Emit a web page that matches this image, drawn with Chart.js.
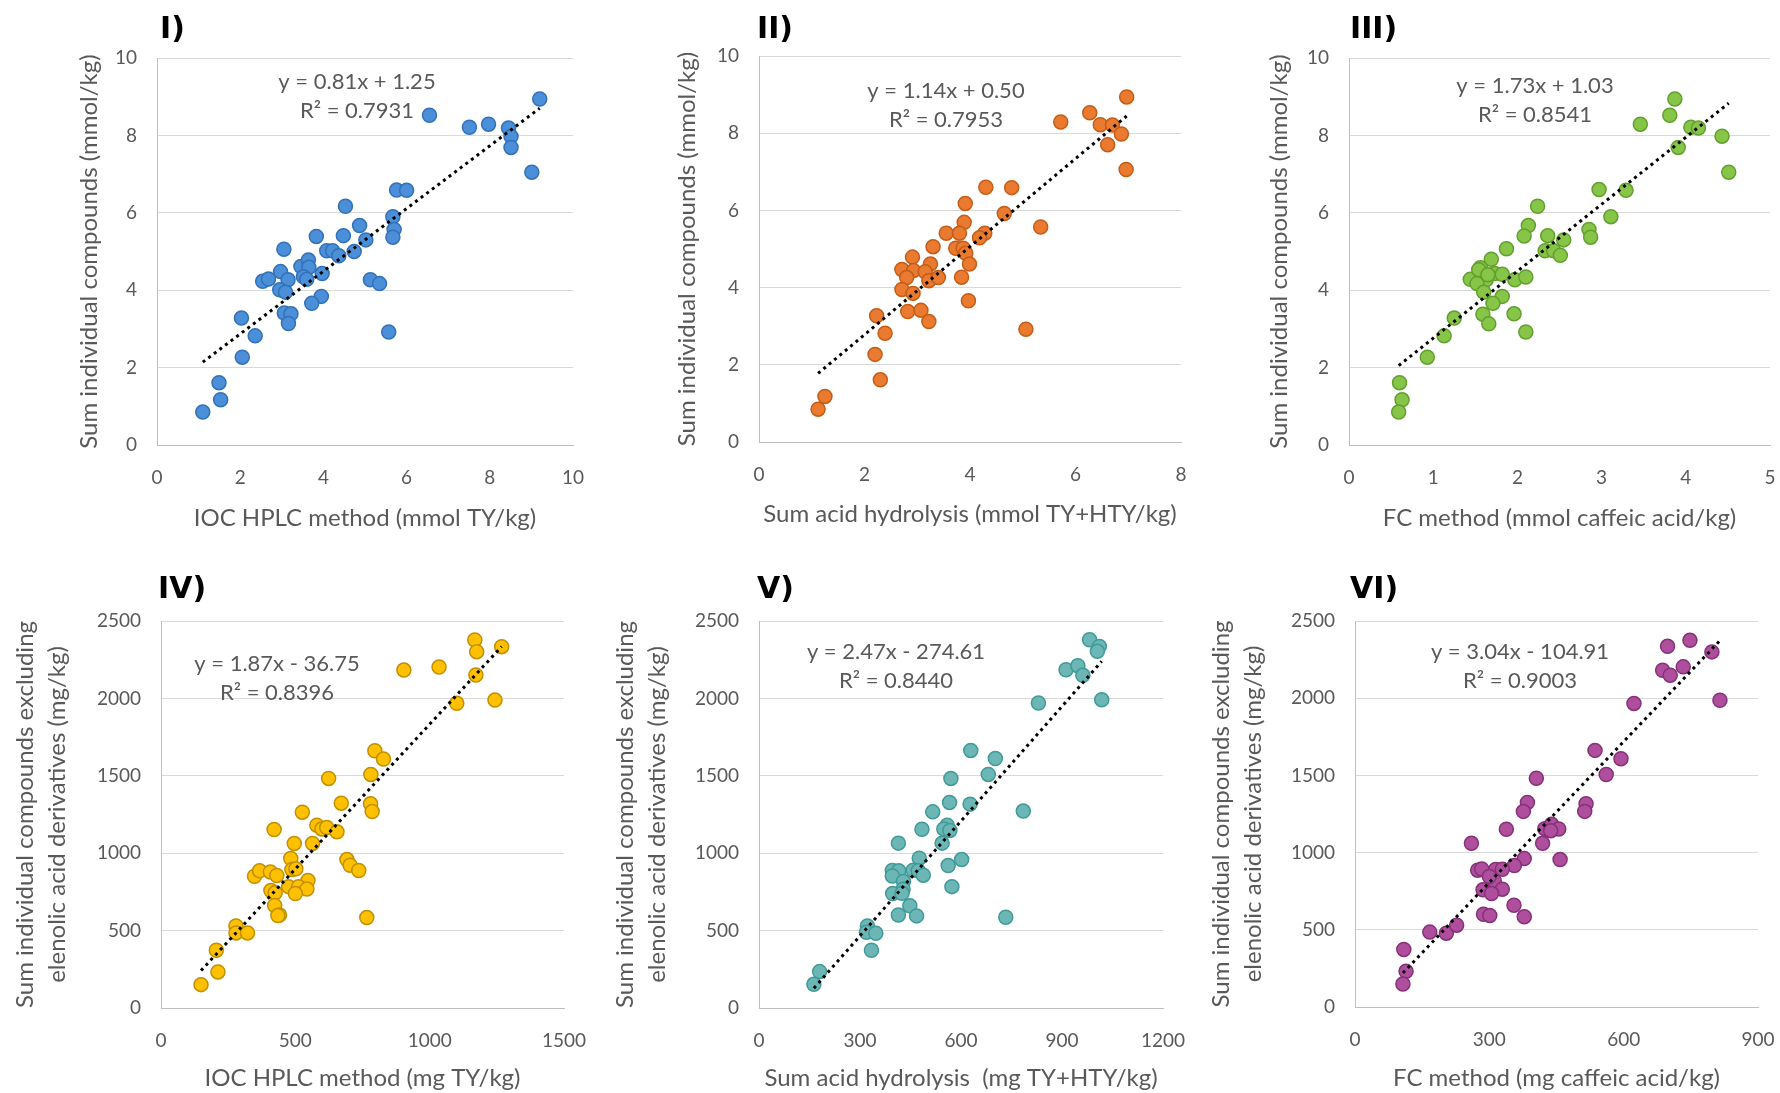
<!DOCTYPE html>
<html lang="en">
<head>
<meta charset="UTF-8">
<title>Sum of individual compounds vs. total phenol methods</title>
<script src="https://cdn.jsdelivr.net/npm/chart.js@4.4.1/dist/chart.umd.min.js"></script>
<style>
  html, body { margin: 0; padding: 0; background: #fff; }
  #wrap { position: relative; width: 1780px; height: 1093px; overflow: hidden; }
  #wrap canvas { position: absolute; }
</style>
</head>
<body>
<div id="wrap"></div>
<script>
// I) IOC HPLC (mmol TY/kg) vs sum individual compounds (mmol/kg)
const iocMmol = [9.2, 6.55, 7.51, 7.97, 8.45, 8.51, 8.51, 9.01, 5.76, 6.0, 4.53, 4.87, 5.67, 5.70, 5.67, 5.02, 3.83, 4.48, 4.74, 4.08, 4.22, 4.37, 3.05, 3.46, 3.64, 3.65, 3.97, 3.52, 3.60, 2.97, 2.54, 2.68, 3.15, 2.95, 3.09, 3.95, 3.72, 5.13, 5.35, 3.06, 3.22, 3.16, 2.03, 2.36, 5.57, 2.05, 1.49, 1.53, 1.10];
const sumMmolI = [8.94, 8.52, 8.21, 8.29, 8.19, 7.97, 7.69, 7.05, 6.59, 6.58, 6.17, 5.67, 5.90, 5.57, 5.37, 5.30, 5.39, 5.41, 5.00, 5.02, 5.02, 4.89, 5.06, 4.61, 4.78, 4.59, 4.43, 4.35, 4.28, 4.48, 4.23, 4.29, 4.27, 4.01, 3.95, 3.84, 3.66, 4.27, 4.17, 3.41, 3.39, 3.14, 3.28, 2.82, 2.92, 2.27, 1.61, 1.17, 0.85];

// II) acid hydrolysis (mmol TY+HTY/kg)
const hydMmol = [6.97, 6.27, 5.72, 6.47, 6.70, 6.87, 6.61, 6.96, 4.30, 4.79, 3.91, 4.65, 5.34, 3.89, 3.55, 3.80, 4.28, 4.18, 3.30, 3.73, 3.87, 3.92, 3.99, 2.91, 3.25, 2.71, 2.93, 3.15, 2.80, 3.22, 3.40, 3.84, 2.71, 2.92, 3.97, 2.82, 3.07, 3.22, 2.23, 2.39, 5.06, 2.20, 2.30, 1.25, 1.12];
const sumMmolII = [8.94, 8.53, 8.29, 8.22, 8.21, 7.98, 7.70, 7.06, 6.60, 6.59, 6.18, 5.92, 5.57, 5.69, 5.41, 5.41, 5.41, 5.29, 5.06, 5.02, 5.02, 4.89, 4.61, 4.79, 4.61, 4.47, 4.44, 4.41, 4.26, 4.18, 4.26, 4.27, 3.95, 3.85, 3.66, 3.38, 3.41, 3.12, 3.27, 2.82, 2.92, 2.27, 1.61, 1.18, 0.85];

// III) FC method (mmol caffeic acid/kg)
const fcMmol = [3.87, 3.81, 3.46, 4.06, 4.15, 4.43, 3.91, 4.51, 2.97, 3.29, 2.24, 3.11, 2.13, 2.08, 2.85, 2.87, 2.36, 2.55, 1.87, 2.33, 2.43, 2.51, 1.69, 1.56, 1.73, 1.82, 1.44, 1.63, 1.52, 1.97, 2.10, 1.60, 1.82, 1.71, 1.59, 1.96, 1.66, 1.25, 1.13, 2.10, 0.93, 0.60, 0.63, 0.59, 1.54, 1.65];
const sumMmolIII = [8.94, 8.52, 8.29, 8.21, 8.19, 7.98, 7.69, 7.05, 6.60, 6.58, 6.17, 5.90, 5.67, 5.40, 5.57, 5.37, 5.41, 5.30, 5.07, 5.02, 5.02, 4.90, 4.80, 4.58, 4.43, 4.41, 4.28, 4.27, 4.17, 4.27, 4.34, 3.95, 3.84, 3.66, 3.38, 3.39, 3.13, 3.28, 2.82, 2.92, 2.27, 1.61, 1.17, 0.85, 4.53, 4.40];

// IV) IOC HPLC (mg TY/kg) vs sum excl. elenolic acid derivatives (mg/kg)
const iocMg = [1168, 1175, 1268, 904, 1035, 1172, 1101, 1243, 796, 828, 781, 624, 671, 780, 786, 526, 580, 599, 617, 655, 421, 496, 564, 483, 692, 704, 736, 348, 367, 407, 431, 487, 502, 547, 475, 512, 543, 500, 409, 425, 423, 441, 435, 766, 279, 279, 322, 206, 212, 149];
const sumMgIV = [2377, 2302, 2334, 2183, 2203, 2151, 1968, 1989, 1662, 1608, 1509, 1483, 1323, 1319, 1269, 1265, 1181, 1157, 1166, 1138, 1153, 1063, 1063, 966, 959, 922, 888, 851, 886, 879, 856, 894, 899, 823, 784, 784, 769, 739, 759, 744, 662, 601, 597, 584, 530, 485, 485, 373, 233, 151];

// V) acid hydrolysis (mg TY+HTY/kg)
const hydMg = [982, 1011, 1005, 912, 947, 962, 830, 1018, 629, 702, 681, 570, 566, 627, 785, 516, 484, 559, 549, 567, 414, 544, 476, 602, 562, 573, 396, 415, 396, 458, 473, 488, 429, 428, 397, 425, 448, 414, 468, 733, 322, 319, 347, 334, 180, 163];
const sumMgV = [2379, 2336, 2304, 2185, 2211, 2149, 1970, 1991, 1664, 1612, 1509, 1483, 1328, 1317, 1272, 1267, 1155, 1181, 1157, 1147, 1065, 1065, 968, 959, 920, 784, 888, 886, 853, 890, 886, 858, 817, 767, 739, 741, 660, 601, 595, 586, 530, 489, 483, 373, 235, 153];

// VI) FC method (mg caffeic acid/kg)
const fcMg = [748, 698, 797, 687, 733, 704, 623, 815, 536, 594, 561, 405, 385, 376, 516, 513, 338, 424, 439, 455, 437, 419, 260, 378, 356, 458, 274, 283, 314, 329, 311, 300, 286, 329, 305, 355, 287, 301, 378, 167, 204, 227, 109, 114, 107];
const sumMgVI = [2375, 2336, 2300, 2181, 2203, 2149, 1966, 1987, 1662, 1608, 1506, 1481, 1325, 1267, 1317, 1267, 1151, 1155, 1183, 1153, 1142, 1060, 1060, 961, 916, 955, 886, 894, 890, 892, 817, 845, 759, 763, 735, 659, 601, 593, 584, 485, 478, 530, 373, 231, 149];

// trendline equations as printed on the chart
const slopes = [0.81, 1.14, 1.73, 1.87, 2.47, 3.04];
const intercepts = [1.25, 0.50, 1.03, -36.75, -274.61, -104.91];
const eqTexts = [
  ['y = 0.81x + 1.25', 'R² = 0.7931'],
  ['y = 1.14x + 0.50', 'R² = 0.7953'],
  ['y = 1.73x + 1.03', 'R² = 0.8541'],
  ['y = 1.87x - 36.75', 'R² = 0.8396'],
  ['y = 2.47x - 274.61', 'R² = 0.8440'],
  ['y = 3.04x - 104.91', 'R² = 0.9003']
];

const FONT = 'Lato, "Open Sans", sans-serif';
const GREY = '#595959';
const yMg = ['Sum individual compounds excluding', 'elenolic acid derivatives (mg/kg)'];
const yMmol = 'Sum individual compounds (mmol/kg)';

// box = canvas [left, top, width, height], area = plot [left, top, right, bottom]
const panels = [
  {label: 'I)', xs: iocMmol, ys: sumMmolI, box: [0, 0, 590, 545], area: [157, 58, 573, 445],
   xMax: 10, xStep: 2, yMax: 10, yStep: 2, fill: '#4a8fd8', edge: '#3371b8',
   xTitle: 'IOC HPLC method (mmol TY/kg)', yTitle: yMmol, yTitleX: 89, xTitleY: 518,
   labelPos: [160, 30], eqPos: [357, 82]},
  {label: 'II)', xs: hydMmol, ys: sumMmolII, box: [590, 0, 600, 545], area: [759, 56, 1181, 442],
   xMax: 8, xStep: 2, yMax: 10, yStep: 2, fill: '#ea7a30', edge: '#c45d17',
   xTitle: 'Sum acid hydrolysis (mmol TY+HTY/kg)', yTitle: yMmol, yTitleX: 687, xTitleY: 514,
   labelPos: [757, 30], eqPos: [946, 91]},
  {label: 'III)', xs: fcMmol, ys: sumMmolIII, box: [1190, 0, 590, 545], area: [1349, 58, 1770, 445],
   xMax: 5, xStep: 1, yMax: 10, yStep: 2, fill: '#86c548', edge: '#62a02e',
   xTitle: 'FC method (mmol caffeic acid/kg)', yTitle: yMmol, yTitleX: 1279, xTitleY: 518,
   labelPos: [1350, 30], eqPos: [1535, 86]},
  {label: 'IV)', xs: iocMg, ys: sumMgIV, box: [0, 545, 590, 548], area: [161, 621, 564, 1008],
   xMax: 1500, xStep: 500, yMax: 2500, yStep: 500, fill: '#ffc000', edge: '#c09000',
   xTitle: 'IOC HPLC method (mg TY/kg)', yTitle: yMg, yTitleX: 25, xTitleY: 1078,
   labelPos: [158, 590], eqPos: [277, 664]},
  {label: 'V)', xs: hydMg, ys: sumMgV, box: [590, 545, 600, 548], area: [759, 621, 1163, 1008],
   xMax: 1200, xStep: 300, yMax: 2500, yStep: 500, fill: '#6cb7b6', edge: '#3f9a99',
   xTitle: 'Sum acid hydrolysis  (mg TY+HTY/kg)', yTitle: yMg, yTitleX: 625, xTitleY: 1078,
   labelPos: [757, 590], eqPos: [896, 652]},
  {label: 'VI)', xs: fcMg, ys: sumMgVI, box: [1190, 545, 590, 548], area: [1355, 621, 1758, 1007],
   xMax: 900, xStep: 300, yMax: 2500, yStep: 500, fill: '#b04e9e', edge: '#843278',
   xTitle: 'FC method (mg caffeic acid/kg)', yTitle: yMg, yTitleX: 1221, xTitleY: 1078,
   labelPos: [1350, 590], eqPos: [1520, 652]}
];

// panel letter + trendline equation
const notes = {
  id: 'notes',
  afterDraw(chart, args, o) {
    const ctx = chart.ctx;
    ctx.save();
    ctx.textBaseline = 'middle';
    ctx.textAlign = 'left';
    ctx.fillStyle = '#000';
    ctx.font = 'bold 30px "DejaVu Sans"';
    ctx.fillText(o.label, o.labelX, o.labelY);
    ctx.textAlign = 'center';
    ctx.fillStyle = GREY;
    ctx.font = '22px ' + FONT;
    o.lines.forEach((t, i) => ctx.fillText(t, o.eqX, o.eqY + i * 29));
    ctx.restore();
  }
};

const wrap = document.getElementById('wrap');
const titleSize = 24, titleLH = 1.35, xTitleLH = 1.2;
const plain = {useGrouping: false};

panels.forEach((p, i) => {
  const [bl, bt, bw, bh] = p.box;
  const [al, at, ar, ab] = p.area;
  const cv = document.createElement('canvas');
  cv.width = bw; cv.height = bh;
  cv.style.left = bl + 'px'; cv.style.top = bt + 'px';
  wrap.appendChild(cv);

  const pts = p.xs.map((x, k) => ({x: x, y: p.ys[k]}));
  const x0 = Math.min(...p.xs), x1 = Math.max(...p.xs);
  const trend = [x0, x1].map(x => ({x: x, y: slopes[i] * x + intercepts[i]}));

  new Chart(cv, {
    type: 'scatter',
    data: {
      datasets: [
        {data: trend, showLine: true, pointRadius: 0, borderColor: '#000', borderWidth: 3,
         borderDash: [3, 4], fill: false},
        {data: pts, pointRadius: 7, pointHoverRadius: 7, backgroundColor: p.fill,
         borderColor: p.edge, borderWidth: 1.5}
      ]
    },
    options: {
      responsive: false,
      animation: false,
      events: [],
      layout: {padding: {top: at - bt, right: bl + bw - ar, left: 0, bottom: 0}},
      plugins: {
        legend: {display: false},
        tooltip: {enabled: false},
        notes: {label: p.label, labelX: p.labelPos[0] - bl, labelY: p.labelPos[1] - bt,
                lines: eqTexts[i], eqX: p.eqPos[0] - bl, eqY: p.eqPos[1] - bt}
      },
      scales: {
        x: {
          type: 'linear', min: 0, max: p.xMax,
          // gap below the axis comes from an invisible tick length so it does not widen the side padding
          ticks: {stepSize: p.xStep, color: GREY, font: {family: FONT, size: 19}, padding: 0, format: plain},
          grid: {display: false, drawTicks: true, tickLength: 21},
          border: {color: '#bfbfbf', width: 1},
          title: {display: true, text: p.xTitle, color: GREY,
                  font: {family: FONT, size: titleSize, lineHeight: xTitleLH},
                  padding: {top: 0, bottom: (bt + bh - p.xTitleY) - titleSize * xTitleLH / 2}},
          afterFit(s) { s.height = bt + bh - ab; }
        },
        y: {
          type: 'linear', min: 0, max: p.yMax,
          ticks: {stepSize: p.yStep, color: GREY, font: {family: FONT, size: 19}, padding: 0, format: plain},
          grid: {color: '#d9d9d9', drawTicks: true, tickLength: 20, tickColor: 'rgba(0,0,0,0)'},
          border: {color: '#bfbfbf', width: 1},
          title: {display: true, text: p.yTitle, color: GREY,
                  font: {family: FONT, size: titleSize, lineHeight: titleLH},
                  padding: {top: p.yTitleX - bl - titleSize * titleLH / 2, bottom: 0}},
          afterFit(s) { s.width = al - bl; }
        }
      }
    },
    plugins: [notes]
  });
});
</script>
</body>
</html>
